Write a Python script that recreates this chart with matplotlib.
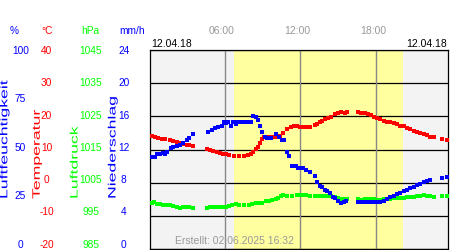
import matplotlib
matplotlib.use('Agg')
import matplotlib.pyplot as plt
from matplotlib.patheffects import AbstractPathEffect
from matplotlib.transforms import Affine2D

plt.rcParams['font.family'] = ['Liberation Sans', 'DejaVu Sans']

# ---------------- data ----------------
temp_hours = [0.24, 0.50, 0.76, 1.03, 1.29, 1.68, 1.94, 2.21, 2.47, 2.74, 3.00, 3.21, 3.53,
              4.58, 4.85, 5.11, 5.38, 5.64, 5.90, 6.09, 6.35, 6.74, 7.14, 7.53, 7.85,
              8.06, 8.27, 8.46, 8.64, 8.80, 8.98, 9.11, 9.38, 9.64, 9.91, 10.17, 10.38,
              10.64, 10.96, 11.23, 11.49, 11.75, 11.94, 12.20, 12.46, 12.73, 13.12, 13.33, 13.52,
              13.70, 13.91, 14.17, 14.43, 14.70, 14.96, 15.23, 15.49, 15.68,
              16.55, 16.81, 17.08, 17.34, 17.60, 17.79, 18.05, 18.31, 18.58, 18.84, 19.10, 19.37,
              19.63, 19.89, 20.16, 20.42, 20.68, 20.95, 21.21, 21.47, 21.74, 22.00, 22.26, 22.53,
              23.19, 23.58]
temp_c = [14.1, 13.8, 13.5, 13.3, 13.1, 12.8, 12.5, 12.2, 11.9, 11.6, 11.4, 11.3, 11.0,
          10.2, 9.9, 9.6, 9.3, 9.0, 8.6, 8.6, 8.3, 8.0, 8.0, 8.0, 8.3,
          8.6, 9.3, 10.1, 10.9, 11.9, 13.1, 13.8, 13.9, 13.9, 13.8, 13.8, 14.2,
          14.9, 16.2, 16.7, 17.0, 17.0, 16.7, 16.8, 16.7, 16.8, 17.3, 17.7, 18.4,
          18.7, 19.1, 19.6, 19.9, 20.6, 21.1, 21.3, 21.1, 21.3,
          21.2, 21.1, 21.0, 20.7, 20.3, 19.9, 19.6, 19.1, 18.7, 18.4, 18.2, 17.9,
          17.6, 17.2, 17.0, 16.6, 16.2, 15.7, 15.4, 15.0, 14.6, 14.3, 13.9, 13.7,
          13.2, 12.9]

hum_hours = [0.24, 0.50, 0.68, 0.89, 1.11, 1.29, 1.42, 1.74, 1.94, 2.21, 2.47, 2.74, 3.00, 3.21, 3.53,
             4.71, 4.98, 5.24, 5.50, 5.77, 5.95,
             6.09, 6.27, 6.53, 6.69, 6.88, 7.00, 7.22, 7.48, 7.75, 8.06, 8.27, 8.46,
             8.64, 8.80, 8.98, 9.17, 9.38, 9.64, 10.04, 10.30, 10.56, 10.70, 10.96, 11.11,
             11.35, 11.62, 11.80,
             11.94, 12.20, 12.46, 12.73, 13.17, 13.33, 13.52, 13.70, 13.91, 14.12, 14.31, 14.57,
             14.75, 14.96, 15.18, 15.44, 15.62,
             16.55, 16.81, 17.08, 17.34, 17.60, 17.79, 18.05, 18.31, 18.58, 18.84, 19.10, 19.37,
             19.63, 19.89, 20.16, 20.42, 20.68, 20.95, 21.21, 21.47, 21.74, 22.00, 22.26,
             23.19, 23.58]
hum_pct = [46.4, 46.4, 47.6, 47.9, 48.4, 47.6, 48.6, 50.9, 51.4, 51.6, 52.3, 53.3, 54.6, 55.6, 57.6,
           58.6, 59.6, 60.7, 61.2, 61.7, 63.7,
           63.2, 64.0, 62.0, 64.0, 62.7, 64.0, 64.0, 64.0, 64.0, 64.0, 66.8, 66.5,
           64.8, 62.0, 58.9, 56.4, 55.6, 55.6, 57.6, 56.4, 54.8, 54.8, 48.6, 46.7,
           41.7, 41.7, 40.6,
           40.9, 40.6, 39.5, 38.5, 36.5, 33.5, 31.7, 31.0, 29.8, 29.3, 28.0, 26.3,
           25.5, 24.3, 23.3, 23.5, 24.3,
           23.5, 23.5, 23.5, 23.5, 23.5, 23.5, 23.5, 23.5, 24.3, 25.1, 26.1, 26.8,
           27.5, 28.3, 29.0, 29.8, 30.8, 31.2, 32.0, 32.7, 33.5, 34.0, 34.5,
           35.5, 36.3]

pres_hours = [0.24, 0.42, 0.68, 0.89, 1.11, 1.42, 1.68, 1.94, 2.21, 2.47, 2.74, 3.00, 3.21, 3.53,
              4.61, 4.85, 5.11, 5.38, 5.64, 5.90, 6.09, 6.35, 6.61, 6.88, 7.14, 7.53,
              7.93, 8.19, 8.46, 8.72, 8.98, 9.25, 9.51, 9.77, 10.04, 10.22, 10.43, 10.64,
              10.96, 11.35, 11.75, 11.94, 12.20, 12.46, 12.73, 13.12, 13.38, 13.65, 13.91, 14.17,
              14.43, 14.70, 14.96, 15.23, 15.49, 15.68,
              16.55, 16.81, 17.08, 17.34, 17.60, 17.79, 18.05, 18.31, 18.58, 18.84, 19.10, 19.37,
              19.63, 19.89, 20.16, 20.42, 20.68, 20.95, 21.21, 21.47, 21.74, 22.00, 22.26, 22.53,
              23.19, 23.58]
pres_hpa = [998.8, 999.1, 998.6, 998.5, 998.4, 998.4, 998.3, 998.0, 997.8, 997.5, 997.7, 997.7, 997.7, 997.3,
            997.3, 997.7, 997.7, 997.7, 997.7, 997.7, 997.7, 998.0, 998.3, 998.5, 998.4, 998.3,
            998.4, 998.7, 998.9, 999.0, 999.0, 999.4, 999.6, 999.7, 1000.1, 1000.5, 1001.1, 1001.3,
            1001.0, 1001.1, 1001.2, 1001.3, 1001.3, 1001.2, 1001.0, 1001.0, 1001.0, 1001.1, 1001.1, 1001.0,
            1001.0, 1000.7, 1000.4, 1000.2, 1000.2, 1000.2,
            1000.2, 999.9, 1000.1, 1000.0, 1000.1, 1000.1, 999.9, 999.9, 1000.0, 1000.0, 1000.2, 1000.3,
            1000.4, 1000.4, 1000.4, 1000.6, 1000.7, 1000.8, 1000.9, 1001.1, 1001.3, 1001.1, 1001.1, 1000.8,
            1000.9, 1001.1]

time_ticks = [6, 12, 18]
time_labels = ['06:00', '12:00', '18:00']
hum_ticks = [100, 75, 50, 25, 0]
temp_ticks = [40, 30, 20, 10, 0, -10, -20]
pres_ticks = [1045, 1035, 1025, 1015, 1005, 995, 985]
rain_ticks = [24, 20, 16, 12, 8, 4, 0]
daylight = (6.74, 20.10)
date_text = '12.04.18'
created_text = 'Erstellt: 02.06.2025 16:32'

BLUE, RED, GREEN = '#0000ff', '#ff0000', '#00ff00'
W, H = 450, 250


class Stretch(AbstractPathEffect):
    """Stretch glyphs along the text direction (the reference uses widened lettering)."""
    def __init__(self, factor):
        super().__init__()
        self.factor = factor

    def draw_path(self, renderer, gc, tpath, affine, rgbFace=None):
        renderer.draw_path(gc, tpath, Affine2D().scale(self.factor, 1) + affine, rgbFace)


def fx(x):
    return x / W


def fy(y):
    return 1 - y / H


fig = plt.figure(figsize=(4.5, 2.5), dpi=100)
fig.patch.set_facecolor('white')

ax = fig.add_axes([fx(150), fy(249), (448 - 150) / W, (249 - 50) / H])
ax.set_xlim(0.103, 23.66)
ax.set_ylim(-20, 40)
ax.set_facecolor('#f3f3f3')
ax.axvspan(daylight[0], daylight[1], color='#ffffa0', lw=0, zorder=0)
for t in temp_ticks:
    ax.axhline(t, color='black', lw=0.9, zorder=1)
for h in time_ticks:
    ax.axvline(h, color='#888888', lw=1.0, zorder=1)
for s in ax.spines.values():
    s.set_color('black')
    s.set_linewidth(0.9)
ax.tick_params(length=0, labelleft=False, labelbottom=False)

axp = ax.twinx()
axp.set_ylim(985, 1045)
axh = ax.twinx()
axh.set_ylim(0, 100)
for a in (axp, axh):
    a.axis('off')
    a.set_xlim(ax.get_xlim())

ms = 2.3
axp.plot(pres_hours, pres_hpa, 's', color=GREEN, ms=ms, mew=0, clip_on=True)
axh.plot(hum_hours, hum_pct, 's', color=BLUE, ms=ms, mew=0, clip_on=True)
ax.plot(temp_hours, temp_c, 's', color=RED, ms=ms, mew=0, zorder=3, clip_on=True)

fs = 7.3
# column headers
fig.text(fx(14), fy(33.5), '%', color=BLUE, fontsize=fs, ha='center', va='baseline')
fig.text(fx(46.7), fy(33.5), '°C', color=RED, fontsize=fs, ha='center', va='baseline')
fig.text(fx(90.3), fy(33.5), 'hPa', color=GREEN, fontsize=fs, ha='center', va='baseline')
fig.text(fx(132), fy(33.5), 'mm/h', color=BLUE, fontsize=fs, ha='center', va='baseline')

# tick labels (left columns)
top_c, span = 50.5, 193.5
for v in hum_ticks:
    y = top_c + (100 - v) / 100 * span + 3.6
    fig.text(fx(20.5), fy(y), str(v), color=BLUE, fontsize=fs, ha='center', va='baseline')
for v in temp_ticks:
    y = top_c + (40 - v) / 60 * span + 3.6
    fig.text(fx(46.5), fy(y), str(v), color=RED, fontsize=fs, ha='center', va='baseline')
for v in pres_ticks:
    y = top_c + (1045 - v) / 60 * span + 3.6
    fig.text(fx(91), fy(y), str(v), color=GREEN, fontsize=fs, ha='center', va='baseline')
for v in rain_ticks:
    y = top_c + (24 - v) / 24 * span + 3.6
    fig.text(fx(123.7), fy(y), str(v), color=BLUE, fontsize=fs, ha='center', va='baseline')

# rotated axis titles
st = [Stretch(1.65)]
fig.text(fx(4.3), fy(199), 'Luftfeuchtigkeit', color=BLUE, fontsize=7.7, rotation=90,
         ha='center', va='bottom', path_effects=st)
fig.text(fx(36.7), fy(199), 'Temperatur', color=RED, fontsize=7.7, rotation=90,
         ha='center', va='bottom', path_effects=st)
fig.text(fx(74.5), fy(199), 'Luftdruck', color=GREEN, fontsize=7.7, rotation=90,
         ha='center', va='bottom', path_effects=st)
fig.text(fx(112.5), fy(199), 'Niederschlag', color=BLUE, fontsize=7.7, rotation=90,
         ha='center', va='bottom', path_effects=st)

# time labels on top
for h, lab in zip(time_ticks, time_labels):
    xpix = ax.transData.transform((h, 0))[0] - 3
    fig.text(xpix / W, fy(33.5), lab, color='#999999', fontsize=7.5, ha='center', va='baseline')

fig.text(fx(151.5), fy(46.7), date_text, color='black', fontsize=7.5, ha='left', va='baseline')
fig.text(fx(446.7), fy(46.7), date_text, color='black', fontsize=7.5, ha='right', va='baseline')
fig.text(fx(175), fy(243.7), created_text, color='#999999', fontsize=7.5, ha='left', va='baseline')

fig.savefig('out.png', dpi=100)
